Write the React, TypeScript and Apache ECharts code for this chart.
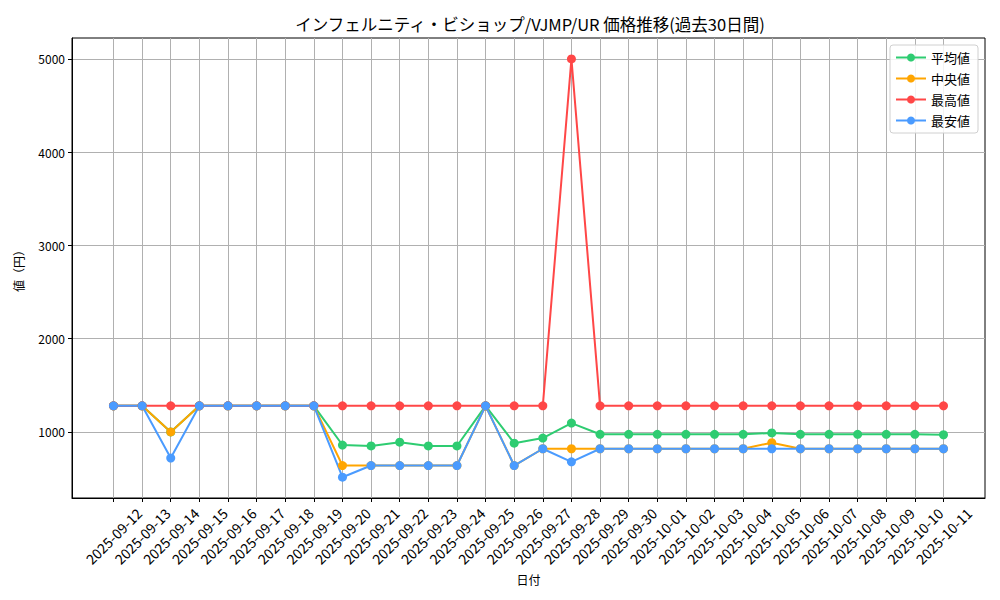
import React, { useEffect, useRef } from "react";
import * as echarts from "echarts";

const dates: string[] = [
  "2025-09-12", "2025-09-13", "2025-09-14", "2025-09-15", "2025-09-16",
  "2025-09-17", "2025-09-18", "2025-09-19", "2025-09-20", "2025-09-21",
  "2025-09-22", "2025-09-23", "2025-09-24", "2025-09-25", "2025-09-26",
  "2025-09-27", "2025-09-28", "2025-09-29", "2025-09-30", "2025-10-01",
  "2025-10-02", "2025-10-03", "2025-10-04", "2025-10-05", "2025-10-06",
  "2025-10-07", "2025-10-08", "2025-10-09", "2025-10-10", "2025-10-11",
];

const avgPrices: number[] = [
  1280, 1280, 1000, 1280, 1280, 1280, 1280, 1280, 860, 850,
  890, 850, 850, 1280, 880, 935, 1095, 975, 975, 975,
  975, 975, 975, 990, 975, 975, 975, 975, 975, 970,
];

const medianPrices: number[] = [
  1280, 1280, 1000, 1280, 1280, 1280, 1280, 1280, 640, 640,
  640, 640, 640, 1280, 640, 820, 820, 820, 820, 820,
  820, 820, 820, 885, 820, 820, 820, 820, 820, 820,
];

const maxPrices: number[] = [
  1280, 1280, 1280, 1280, 1280, 1280, 1280, 1280, 1280, 1280,
  1280, 1280, 1280, 1280, 1280, 1280, 5000, 1280, 1280, 1280,
  1280, 1280, 1280, 1280, 1280, 1280, 1280, 1280, 1280, 1280,
];

const minPrices: number[] = [
  1280, 1280, 720, 1280, 1280, 1280, 1280, 1280, 515, 640,
  640, 640, 640, 1280, 640, 820, 680, 820, 820, 820,
  820, 820, 820, 820, 820, 820, 820, 820, 820, 820,
];

const yTicks: number[] = [1000, 2000, 3000, 4000, 5000];

const seriesDefs = [
  { name: "平均値", data: avgPrices, color: "#2ecc71" },
  { name: "中央値", data: medianPrices, color: "#ffa500" },
  { name: "最高値", data: maxPrices, color: "#ff4747" },
  { name: "最安値", data: minPrices, color: "#4a9bff" },
];

const FONT = "'Noto Sans CJK JP', 'Noto Sans', sans-serif";

const App: React.FC = () => {
  const chartRef = useRef<HTMLDivElement | null>(null);

  useEffect(() => {
    const chartDom = chartRef.current;
    if (!chartDom) return;
    const myChart = echarts.init(chartDom, undefined, { renderer: "svg" });

    const xIdx = dates.map((_, i) => i);
    const pad = (dates.length - 1) * 0.05;

    const option = {
      animation: false,
      backgroundColor: "#ffffff",
      textStyle: { fontFamily: FONT },
      title: {
        text: "インフェルニティ・ビショップ/VJMP/UR 価格推移(過去30日間)",
        left: 525,
        top: 11,
        textAlign: "center",
        textStyle: { fontFamily: FONT, fontSize: 16.5, fontWeight: "normal", color: "#000" },
      },
      legend: {
        orient: "vertical",
        right: 22,
        top: 45,
        itemWidth: 30,
        itemHeight: 10,
        itemGap: 8,
        padding: [6, 8, 6, 5],
        backgroundColor: "rgba(255,255,255,0.85)",
        borderColor: "#d0d0d0",
        borderWidth: 1,
        borderRadius: 3,
        textStyle: { fontFamily: FONT, fontSize: 13, color: "#000" },
        data: seriesDefs.map((s) => s.name),
      },
      grid: {
        left: 72,
        right: 15,
        top: 38,
        bottom: 102,
        show: true,
        borderColor: "#000",
        borderWidth: 1,
      },
      xAxis: {
        type: "value",
        min: -pad,
        max: dates.length - 1 + pad,
        name: "日付",
        nameLocation: "middle",
        nameGap: 74,
        nameTextStyle: { fontFamily: FONT, fontSize: 12, color: "#000" },
        axisLine: { show: true, onZero: false, lineStyle: { color: "#000", width: 1 } },
        axisTick: { show: true, length: 4, customValues: xIdx, lineStyle: { color: "#000" } },
        axisLabel: {
          customValues: xIdx,
          rotate: 45,
          align: "center",
          verticalAlign: "middle",
          margin: 38,
          fontFamily: FONT,
          fontSize: 14,
          color: "#000",
          formatter: (v: number) => dates[Math.round(v)] ?? "",
        },
        splitLine: { show: true, customValues: xIdx, lineStyle: { color: "#b0b0b0", width: 1 } },
      },
      yAxis: {
        type: "value",
        min: 292,
        max: 5224,
        name: "値（円）",
        nameLocation: "middle",
        nameGap: 48,
        nameRotate: 90,
        nameTextStyle: { fontFamily: FONT, fontSize: 12, color: "#000" },
        axisLine: { show: true, onZero: false, lineStyle: { color: "#000", width: 1 } },
        axisTick: { show: true, length: 4, customValues: yTicks, lineStyle: { color: "#000" } },
        axisLabel: {
          customValues: yTicks,
          margin: 7,
          fontFamily: FONT,
          fontSize: 12,
          color: "#000",
          formatter: (v: number) => String(v),
        },
        splitLine: { show: true, customValues: yTicks, lineStyle: { color: "#b0b0b0", width: 1 } },
      },
      series: seriesDefs.map((s) => ({
        name: s.name,
        type: "line",
        data: s.data.map((v, i) => [i, v]),
        symbol: "circle",
        symbolSize: 9,
        showSymbol: true,
        lineStyle: { color: s.color, width: 2 },
        itemStyle: { color: s.color },
      })),
    };

    myChart.setOption(option);
    return () => {
      myChart.dispose();
    };
  }, []);

  return (
    <div style={{ position: "absolute", left: 0, top: 0, width: 1000, height: 600, background: "#fff" }}>
      <div ref={chartRef} style={{ width: 1000, height: 600 }} />
    </div>
  );
};

export default App;
